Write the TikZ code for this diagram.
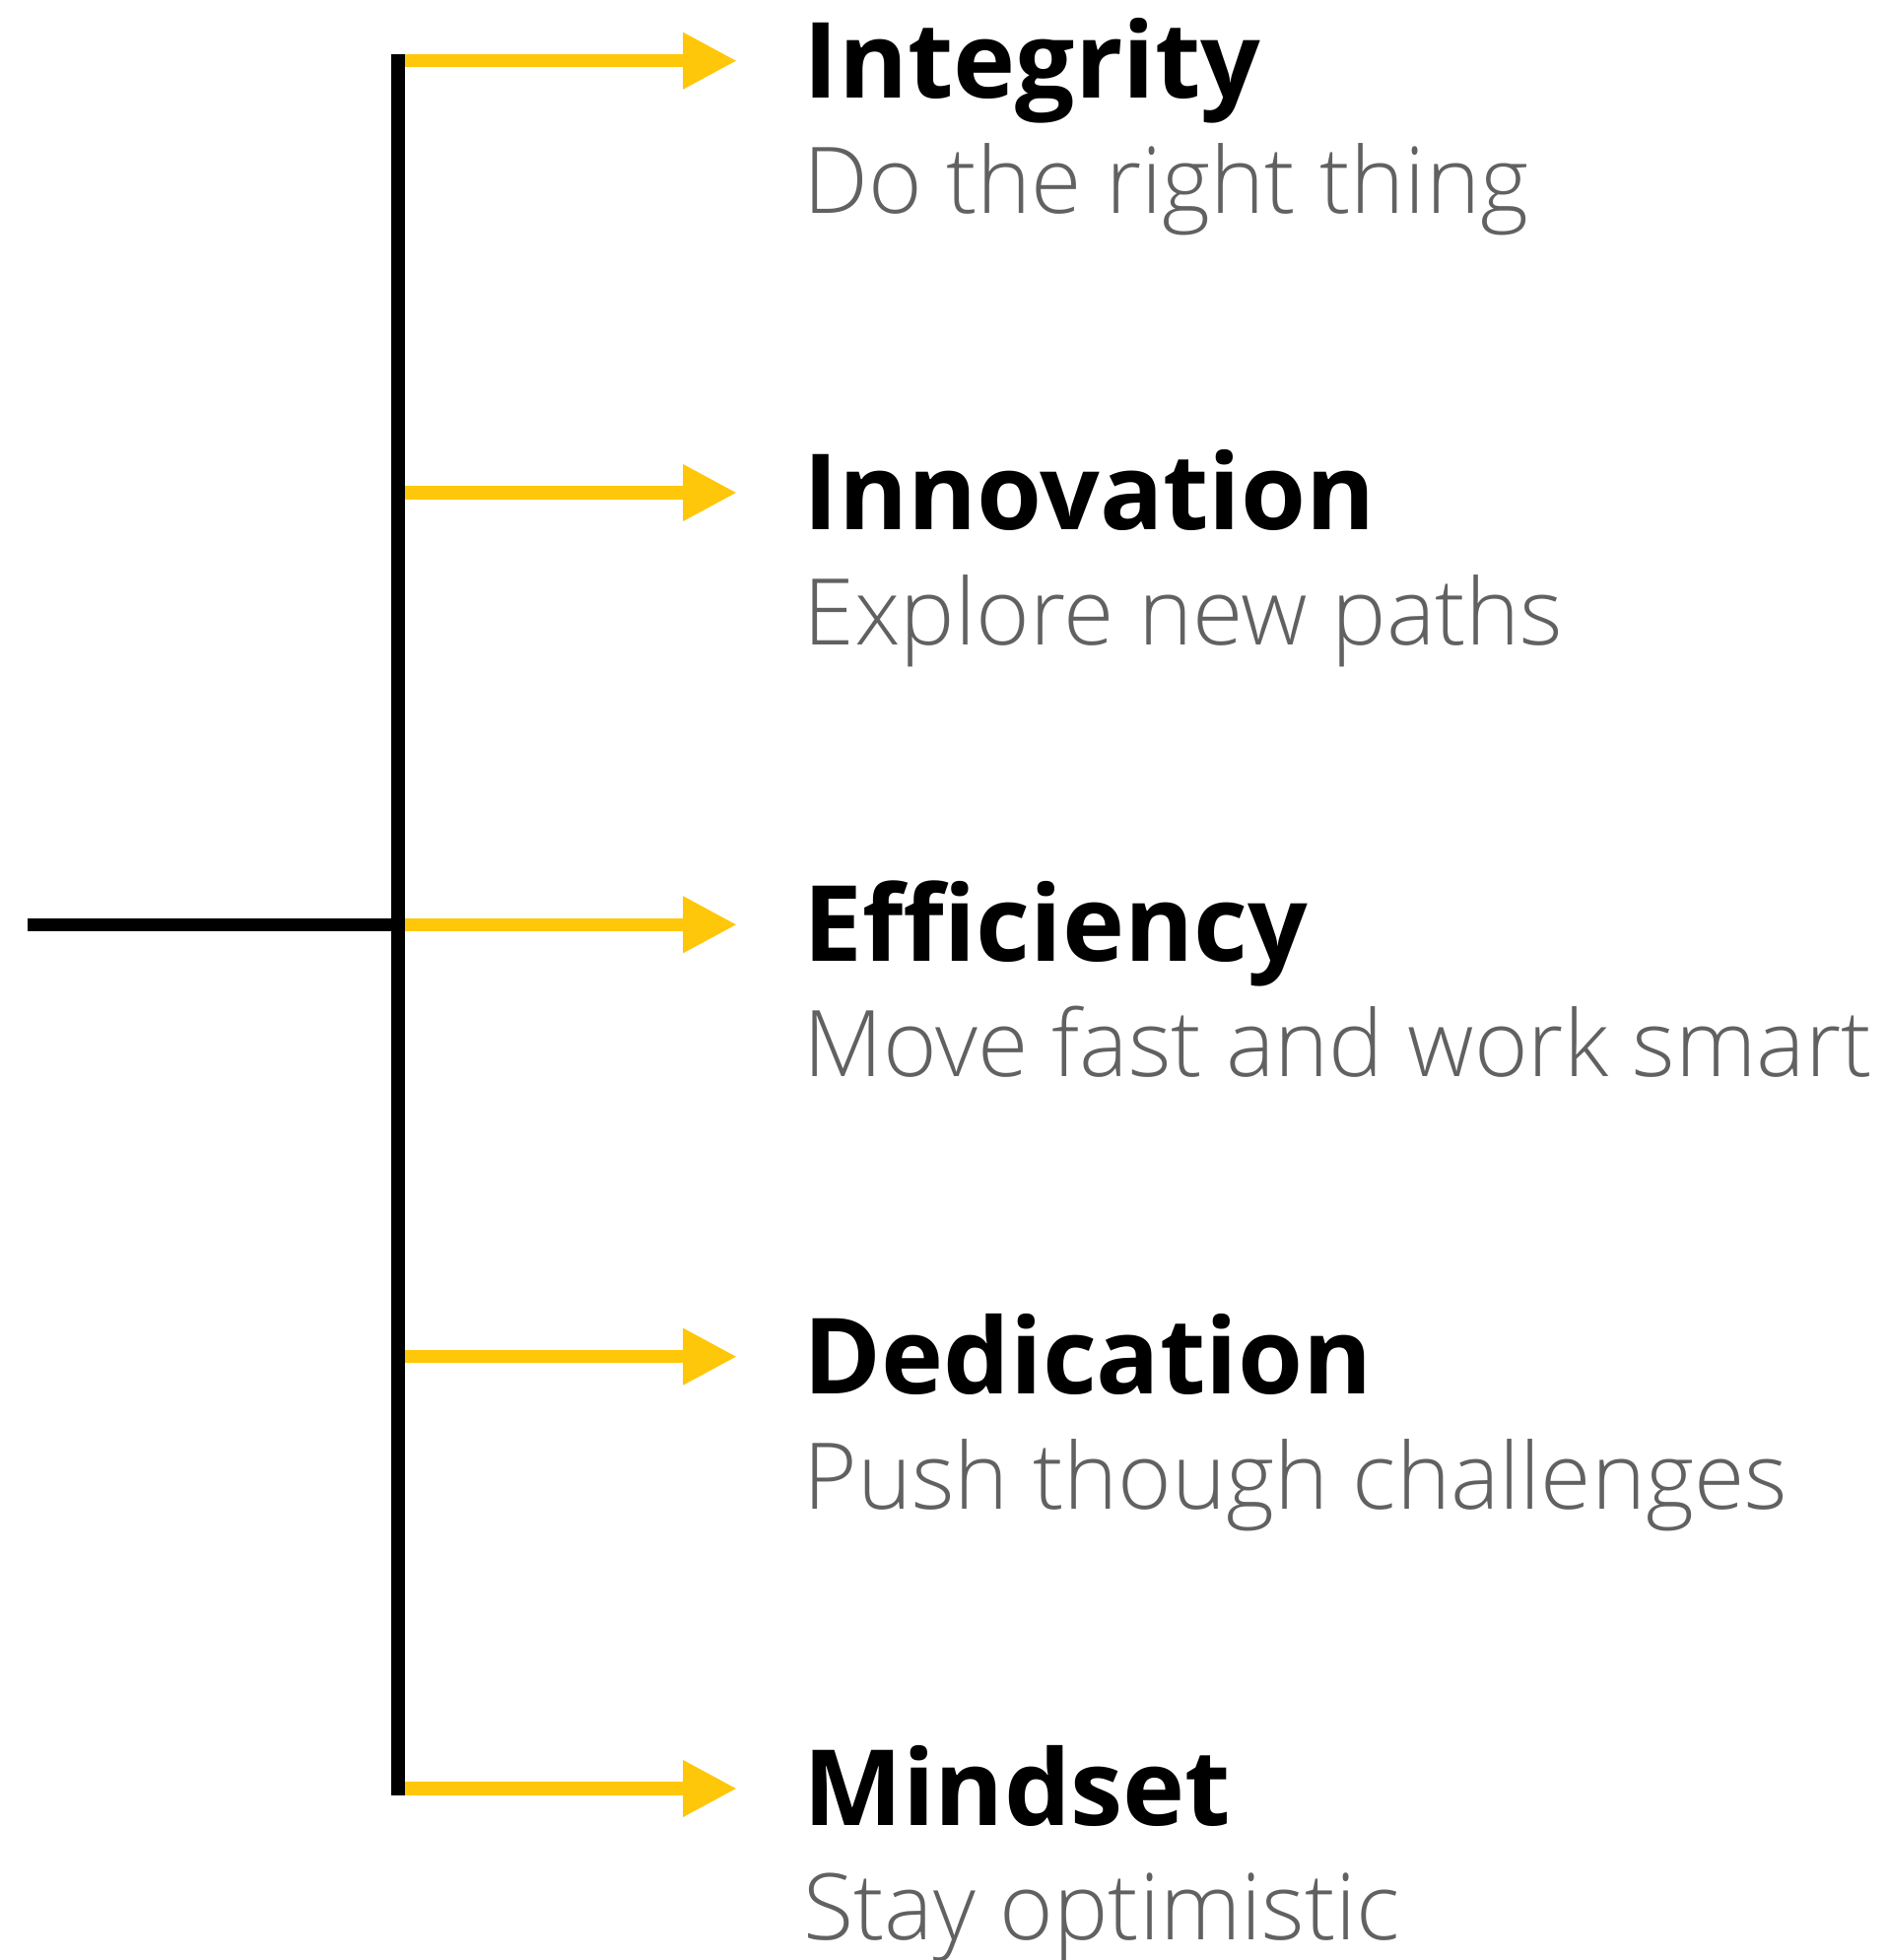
\documentclass[tikz,border=0pt]{standalone}
\usepackage{fontspec}
\setmainfont{Open Sans}
\newfontfamily\lightfont{Open Sans Light}
\usetikzlibrary{arrows.meta}
\definecolor{accent}{HTML}{FFC709}
\definecolor{subgray}{HTML}{616161}
\tikzset{
  trunk/.style={line width=13.5pt, black},
  branch/.style={line width=13.5pt, accent, -{Triangle[length=55pt,width=54pt]}},
  title/.style={anchor=base west, inner sep=0pt, font=\fontsize{106.8}{106.8}\selectfont\bfseries},
  subtitle/.style={anchor=base west, inner sep=0pt, text=subgray, font=\fontsize{93.4}{93.4}\selectfont\lightfont},
}
\begin{document}
\begin{tikzpicture}[x=1pt,y=-1pt]
\useasboundingbox (0,0) rectangle (1916,1989);
\foreach \i/\y in {1/61.7,2/500,3/938.3,4/1376.7,5/1815}{
  \coordinate (b\i) at (404,\y);
  \coordinate (h\i) at (748,\y);
}
\coordinate (root) at (28,938.3);
\coordinate (top) at (404,55);
\coordinate (bot) at (404,1821.7);
\foreach \i in {1,...,5}{ \draw[branch] (b\i) -- (h\i); }
\draw[trunk] (top) -- (bot);
\draw[trunk] (root) -- (b3);
\node[title] (t1) at (815.5,99) {Integrity};
\node[subtitle] (s1) at (815.5,216) {Do the right thing};
\node[title] (t2) at (815.5,537.3) {Innovation};
\node[subtitle] (s2) at (815.5,654.3) {Explore new paths};
\node[title] (t3) at (815.5,975.6) {Efficiency};
\node[subtitle] (s3) at (815.5,1092.6) {Move fast and work smart};
\node[title] (t4) at (815.5,1414) {Dedication};
\node[subtitle] (s4) at (815.5,1531) {Push though challenges};
\node[title] (t5) at (815.5,1852.3) {Mindset};
\node[subtitle] (s5) at (815.5,1968.3) {Stay optimistic};
\end{tikzpicture}
\end{document}
